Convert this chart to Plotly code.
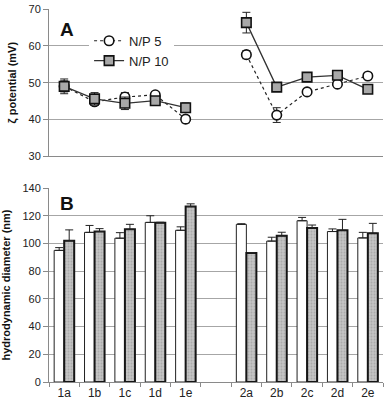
import plotly.graph_objects as go
from plotly.subplots import make_subplots

# categories (" " is the empty slot between the two groups)
samples = ["1a", "1b", "1c", "1d", "1e", " ", "2a", "2b", "2c", "2d", "2e"]

# zeta potential (mV)
zeta_np5 = [49.0, 44.8, 46.1, 46.7, 40.1, None, 57.6, 41.2, 47.5, 49.6, 51.8]
zeta_np5_err = [1.5, 1.0, 1.2, 0.8, 1.0, None, 1.1, 2.0, 0.5, 0.5, 0.5]
zeta_np10 = [49.0, 45.6, 44.4, 45.1, 43.2, None, 66.3, 48.8, 51.5, 52.0, 48.2]
zeta_np10_err = [2.0, 1.7, 1.7, 0.7, 1.3, None, 2.8, 0.6, 0.6, 0.6, 0.6]

# hydrodynamic diameter (nm)
size_np5 = [95.0, 108.0, 103.8, 115.2, 109.5, None, 113.8, 101.7, 116.4, 108.6, 104.0]
size_np5_err = [2.0, 5.0, 4.0, 4.8, 2.5, None, 0.4, 2.8, 2.4, 1.9, 4.0]
size_np10 = [102.0, 108.6, 110.2, 115.0, 126.7, None, 93.1, 105.5, 111.2, 109.5, 107.4]
size_np10_err = [7.8, 2.1, 3.6, 0.3, 1.9, None, 0.2, 2.6, 2.1, 7.9, 7.1]

zero = [0] * len(samples)

fig = make_subplots(rows=2, cols=1, vertical_spacing=0.085,
                    row_heights=[0.395, 0.52])
fig.update_layout(yaxis_domain=[0.605, 1.0], yaxis2_domain=[0.0, 0.52])

# --- A: zeta potential
fig.add_trace(go.Scatter(
    x=samples, y=zeta_np5, name="N/P 5", mode="lines+markers",
    line=dict(color="#222222", width=1.2, dash="dot"),
    marker=dict(symbol="circle", size=9.5, color="white",
                line=dict(color="#111111", width=1.6)),
    error_y=dict(type="data", array=zeta_np5_err, color="#222222",
                 thickness=1, width=4)), row=1, col=1)

fig.add_trace(go.Scatter(
    x=samples, y=zeta_np10, name="N/P 10", mode="lines+markers",
    line=dict(color="#333333", width=1.3),
    marker=dict(symbol="square", size=9.5, color="#a8a8a8",
                line=dict(color="#111111", width=1.6)),
    error_y=dict(type="data", array=zeta_np10_err, color="#222222",
                 thickness=1, width=4)), row=1, col=1)

# --- B: hydrodynamic diameter
fig.add_trace(go.Bar(
    x=samples, y=size_np5, name="N/P 5", showlegend=False,
    marker=dict(color="white", line=dict(color="#222222", width=1)),
    error_y=dict(type="data", array=size_np5_err, arrayminus=zero,
                 symmetric=False, color="#222222", thickness=1, width=4)),
    row=2, col=1)

fig.add_trace(go.Bar(
    x=samples, y=size_np10, name="N/P 10", showlegend=False,
    marker=dict(color="#bdbdbd", line=dict(color="#151515", width=2),
                pattern=dict(shape=".", fgcolor="#8f8f8f", bgcolor="#c4c4c4",
                             size=3, solidity=0.3)),
    error_y=dict(type="data", array=size_np10_err, arrayminus=zero,
                 symmetric=False, color="#222222", thickness=1, width=4)),
    row=2, col=1)

tickfont = dict(family="Liberation Sans, Arial", size=11, color="#222222")
titlefont = dict(family="Liberation Sans, Arial", size=11, color="#111111",
                 weight="bold")

fig.update_xaxes(type="category", categoryorder="array", categoryarray=samples,
                 range=[-0.5, 10.5], showgrid=False, zeroline=False,
                 showline=True, linecolor="#8a8a8a", linewidth=1)
fig.update_xaxes(showticklabels=False, ticks="", row=1, col=1)
fig.update_xaxes(tickson="boundaries", ticks="outside", ticklen=4,
                 tickcolor="#8a8a8a",
                 tickfont=dict(family="Liberation Sans, Arial", size=12,
                               color="#222222"), row=2, col=1)

fig.update_yaxes(showgrid=True, gridcolor="#a6a6a6", gridwidth=1,
                 zeroline=False, showline=True, linecolor="#8a8a8a",
                 linewidth=1, ticks="outside", ticklen=5,
                 tickcolor="#8a8a8a", tickfont=tickfont)
fig.update_yaxes(range=[30, 70], dtick=10, row=1, col=1,
                 title=dict(text="ζ potential (mV)", font=titlefont,
                            standoff=9))
fig.update_yaxes(range=[0, 140], dtick=20, row=2, col=1,
                 title=dict(text="hydrodynamic diameter (nm)", font=titlefont,
                            standoff=9))

fig.add_annotation(text="<b>A</b>", x=0.055, y=0.86, xref="x domain",
                   yref="y domain", xanchor="center", yanchor="middle",
                   showarrow=False,
                   font=dict(family="Liberation Sans, Arial", size=19,
                             color="#111111"))
fig.add_annotation(text="<b>B</b>", x=0.055, y=0.92, xref="x2 domain",
                   yref="y2 domain", xanchor="center", yanchor="middle",
                   showarrow=False,
                   font=dict(family="Liberation Sans, Arial", size=19,
                             color="#111111"))

fig.update_layout(
    width=386, height=403,
    margin=dict(l=49, r=3, t=6, b=20),
    plot_bgcolor="white", paper_bgcolor="white",
    barmode="group", bargap=0.34, bargroupgap=0,
    legend=dict(x=0.12, y=0.955, xanchor="left", yanchor="top",
                bgcolor="white", tracegroupgap=0,
                font=dict(family="Liberation Sans, Arial", size=13,
                          color="#222222"),
                itemwidth=30),
    showlegend=True,
)

# page body has a default 8px margin; drop it so the figure fills the window
fig.write_html("out.html", config={"displayModeBar": False},
               post_script="document.body.style.margin='0';")
